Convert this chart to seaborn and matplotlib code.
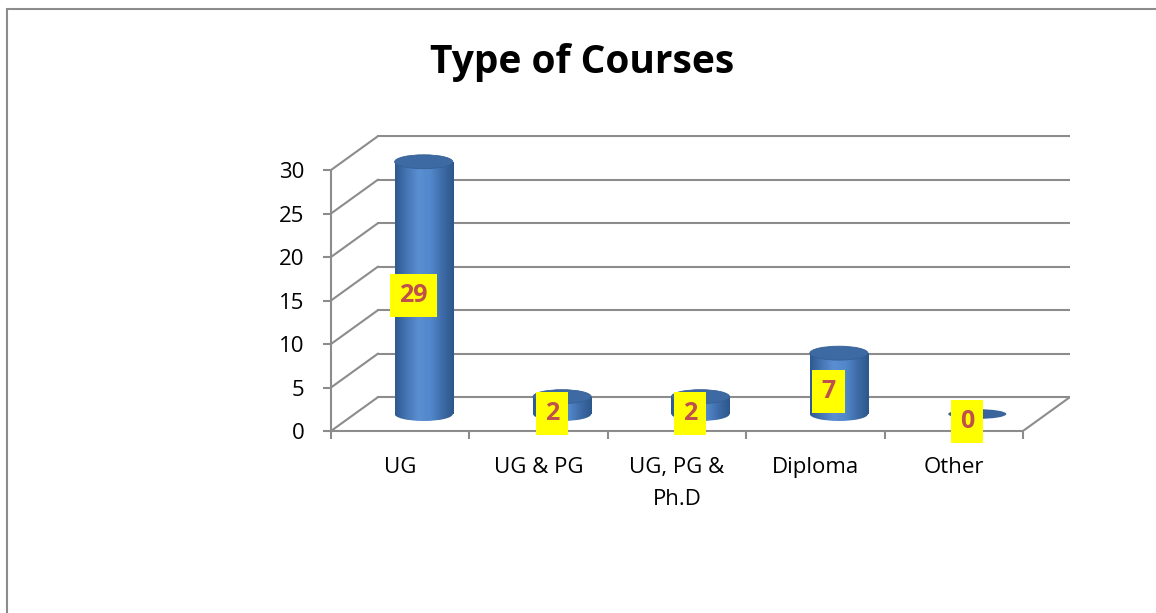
import numpy as np
import pandas as pd
import matplotlib
matplotlib.use("Agg")
import matplotlib.pyplot as plt
from matplotlib.patches import Ellipse, Rectangle
from matplotlib.colors import LinearSegmentedColormap
import seaborn as sns

# Data
categories = ["UG", "UG & PG", "UG, PG &\nPh.D", "Diploma", "Other"]
counts = [29, 2, 2, 7, 0]
y_ticks = [0, 5, 10, 15, 20, 25, 30]
title = "Type of Courses"

sns.set_theme(style="white")
plt.rcParams["font.family"] = ["Open Sans", "DejaVu Sans"]
plt.rcParams["text.color"] = "black"
plt.rcParams["xtick.color"] = "black"
plt.rcParams["ytick.color"] = "black"

GREY = "#8c8c8c"
dx, dy = 0.34, 3.9        # depth offset of the back wall (category units, value units)
bar_w, ell_h = 0.42, 1.6  # cylinder width and ellipse height

df = pd.DataFrame({"course": categories, "count": counts})

fig = plt.figure(figsize=(11.56, 6.13), dpi=100)
ax = fig.add_axes([331 / 1156, 1 - 431 / 613, (1070 - 331) / 1156, 0.4825])

sns.barplot(data=df, x="course", y="count", width=bar_w, color="#4f82c3",
            linewidth=0, ax=ax)

# 3D frame: back wall grid, side wall diagonals, floor
for v in y_ticks:
    ax.plot([-0.5 + dx, 4.5 + dx], [v + dy, v + dy], color=GREY, lw=1.5, zorder=0.5)
    ax.plot([-0.5, -0.5 + dx], [v, v + dy], color=GREY, lw=1.5, zorder=0.5)
ax.plot([4.5, 4.5 + dx], [0, dy], color=GREY, lw=1.5, zorder=0.5)

# cylinders
cmap = LinearSegmentedColormap.from_list(
    "cyl", ["#2d5990", "#4676b4", "#5a8fd2", "#5289cc", "#3f6ca8", "#2c578c"])
grad = np.linspace(0, 1, 256).reshape(1, -1)
for i, (bar, v) in enumerate(zip(ax.patches, counts)):
    xc = i + dx / 2
    base = dy / 2
    bar.set_x(xc - bar_w / 2)
    bar.set_y(base)
    if v > 0:
        bottom = Ellipse((xc, base), bar_w, ell_h, facecolor="none",
                         edgecolor="none", zorder=2)
        ax.add_patch(bottom)
        for clip in (bar, bottom):
            im = ax.imshow(grad, cmap=cmap, aspect="auto", zorder=2,
                           extent=[xc - bar_w / 2, xc + bar_w / 2,
                                   base - ell_h, base + v])
            im.set_clip_path(clip)
        top = Ellipse((xc, base + v), bar_w, ell_h, facecolor="#3d6aa3",
                      edgecolor="#365f93", lw=0.6, zorder=3)
    else:
        top = Ellipse((xc, base), bar_w, ell_h * 0.7, facecolor="#3a659c",
                      edgecolor="none", zorder=3)
    ax.add_patch(top)
    # data label
    ax.text(i + 0.095, v / 2 + 1.05, str(v), ha="center", va="center",
            fontsize=18, fontweight="bold", color="#c0504d", zorder=5,
            bbox=dict(boxstyle="square,pad=0.36", facecolor="#ffff00",
                      edgecolor="none"))

ax.set_xlim(-0.5, 4.5 + dx)
ax.set_ylim(0, 34)
ax.set_facecolor("none")

# axes and ticks on the front plane
for side in ["top", "right"]:
    ax.spines[side].set_visible(False)
ax.spines["left"].set_bounds(0, 30)
ax.spines["bottom"].set_bounds(-0.5, 4.5)
for side in ["left", "bottom"]:
    ax.spines[side].set_color(GREY)
    ax.spines[side].set_linewidth(1.5)

ax.set_yticks(y_ticks)
ax.set_yticklabels([str(t) for t in y_ticks], fontsize=16)
ax.tick_params(axis="y", left=True, length=6, width=1.5, color=GREY, pad=13)
ax.set_xticks(range(len(categories)))
ax.set_xticklabels(categories, fontsize=16, linespacing=1.65)
ax.tick_params(axis="x", which="major", length=0, pad=19)
ax.set_xticks(np.arange(-0.5, 5), minor=True)
ax.tick_params(axis="x", which="minor", bottom=True, length=6, width=1.5, color=GREY)
ax.set_xlabel("")
ax.set_ylabel("")

fig.text(0.504, 1 - 62 / 613, title, ha="center", va="center",
         fontsize=28, fontweight="bold")

# outer border of the chart area
fig.patches.append(Rectangle((7 / 1156, -0.1), 1.2, 1.1 - 9 / 613,
                             transform=fig.transFigure, fill=False,
                             edgecolor=GREY, lw=1.5))

fig.savefig("out.png", dpi=100)
